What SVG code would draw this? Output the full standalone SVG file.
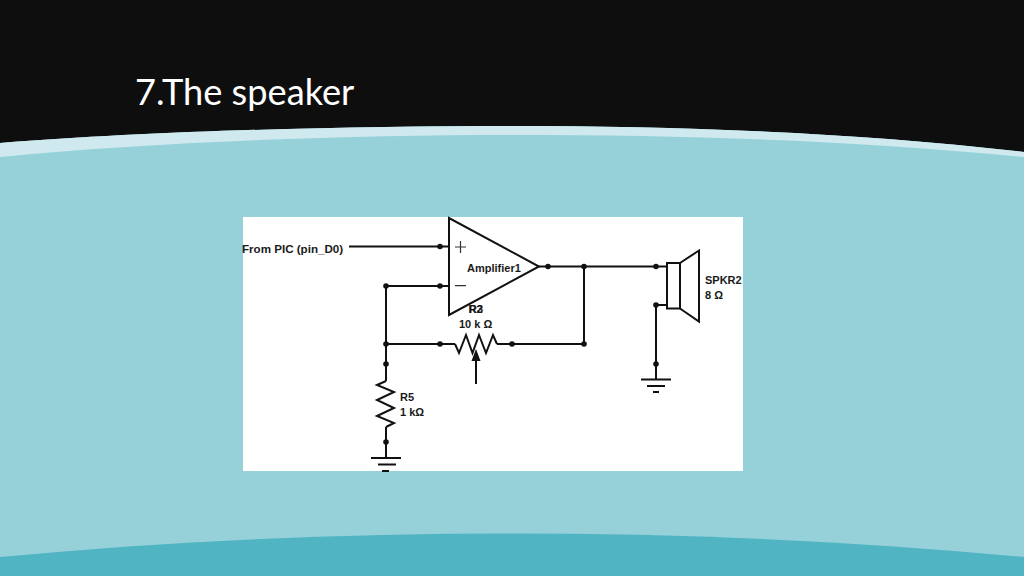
<svg xmlns="http://www.w3.org/2000/svg" width="1024" height="576" viewBox="0 0 1024 576">
<style>
.w{fill:none;stroke:#111;stroke-width:2;stroke-linejoin:miter}
.s{fill:none;stroke:#333;stroke-width:1.2}
.t{font-family:"Liberation Sans",Arial,sans-serif;font-size:11px;font-weight:bold;fill:#1a1a1a}
.d{fill:#111}
</style>
<defs><circle id="dot" r="2.8" class="d"/></defs>
<rect width="1024" height="576" fill="#96d1da"/>
<path d="M0 0H1024V152C860 133 680 126 512 126C350 126 150 131 0 143Z" fill="#0e0e0e"/>
<path d="M0 143C150 131 350 126 512 126C680 126 860 133 1024 152V157C860 141 700 135 512 135C350 135 150 142 0 157Z" fill="#cfe9ee"/>
<path d="M0 576V557C170 541 340 533.500 512 533.500C684 533.500 854 541 1024 557V576Z" fill="#51b4c2"/>
<text x="135" y="105" font-family="Lato,'Noto Sans',sans-serif" font-size="36.200" fill="#fff">7.The speaker</text>
<rect x="243" y="217" width="500" height="254" fill="#fff"/>
<g id="connectors" class="w">
<path d="M349 246.500H449"/>
<path d="M449 286H386V344M386 344H455M386 344V381M386 427V458"/>
<path d="M539 266.500H667M584 266.500V344H497"/>
<path d="M667 305H656V379"/>
<path d="M476 384V358"/>
</g>
<g id="amplifier"><path class="w" d="M449 218V315L539 266.500Z"/>
<path class="s" d="M455 247H466M460.500 241V253M455 285.700H466"/>
<text class="t" x="467" y="272">Amplifier1</text></g>
<g id="pot-r"><path class="w" d="M455 344L459 353L466 335L472.500 353L479 335L486 353L493 335L497 344"/>
<path class="d" d="M476 349L480.500 361H471.500Z"/>
<text class="t" x="468.500" y="313">R2</text><text class="t" x="469" y="313">R3</text><text class="t" x="459" y="328">10 k Ω</text></g>
<g id="resistor-r5"><path class="w" d="M386 381L377 385L394 392L377 400L394 408L377 416L394 423L386 427"/>
<text class="t" x="400" y="401">R5</text><text class="t" x="400" y="416">1 kΩ</text></g>
<g id="ground-1" class="w"><path d="M371 458H401M378 464.500H396M382 471H389"/></g>
<g id="ground-2" class="w"><path d="M641 379.500H671M647 386H665M653 392H659"/></g>
<g id="speaker"><rect class="w" x="667" y="263" width="13" height="45.500"/><path class="w" d="M680 263L699 250.500V321.500L680 308.500"/>
<text class="t" x="705" y="284">SPKR2</text><text class="t" x="705" y="299">8 Ω</text></g>
<g id="source"><text class="t" x="242" y="253" style="font-size:11.600px">From PIC (pin_D0)</text></g>
<g id="junctions">
<use href="#dot" x="440" y="246.500"/><use href="#dot" x="440" y="286"/><use href="#dot" x="386" y="286"/><use href="#dot" x="386" y="344"/><use href="#dot" x="440" y="344"/><use href="#dot" x="512" y="344"/><use href="#dot" x="584" y="344"/><use href="#dot" x="386" y="364"/><use href="#dot" x="386" y="442"/><use href="#dot" x="548" y="266.500"/><use href="#dot" x="584" y="266.500"/><use href="#dot" x="656" y="266.500"/><use href="#dot" x="656" y="305"/><use href="#dot" x="656" y="364"/>
</g>
</svg>
